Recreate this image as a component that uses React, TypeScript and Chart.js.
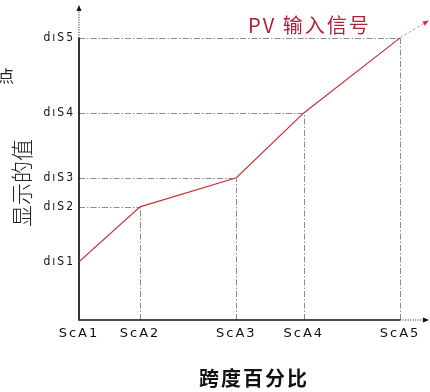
import React, { useEffect, useRef } from "react";
import { Chart, registerables } from "chart.js";

Chart.register(...registerables);

const xLabels = ["ScA1", "ScA2", "ScA3", "ScA4", "ScA5"];
const yLabels = ["dıS1", "dıS2", "dıS3", "dıS4", "dıS5"];
const xValues = [0, 19, 49, 70, 100];
const yValues = [20.6, 40.1, 50.4, 73.4, 100];
const extX = [100, 108.7];
const extY = [100, 106];

const X_MAX = 109;
const Y_MAX = 112;

const guidesPlugin = {
  id: "guides",
  beforeDraw(chart: any) {
    chart.ctx.letterSpacing = "2px";
  },
  beforeDatasetsDraw(chart: any) {
    const ctx = chart.ctx;
    const xs = chart.scales.x;
    const ys = chart.scales.y;
    const area = chart.chartArea;
    ctx.save();
    ctx.strokeStyle = "#8c8c8c";
    ctx.lineWidth = 1;
    ctx.setLineDash([6, 2, 1.5, 2]);
    for (let i = 0; i < xValues.length; i++) {
      const px = Math.round(xs.getPixelForValue(xValues[i])) + 0.5;
      const py = Math.round(ys.getPixelForValue(yValues[i])) + 0.5;
      if (i > 0) {
        ctx.beginPath();
        ctx.moveTo(area.left, py);
        ctx.lineTo(px, py);
        ctx.stroke();
        ctx.beginPath();
        ctx.moveTo(px, area.bottom);
        ctx.lineTo(px, py);
        ctx.stroke();
      }
    }
    ctx.restore();

    const x0 = xs.getPixelForValue(0);
    const y0 = ys.getPixelForValue(0);
    const xEnd = xs.getPixelForValue(100);
    const yEnd = ys.getPixelForValue(100);
    ctx.save();
    ctx.strokeStyle = "#111";
    ctx.lineWidth = 1.7;
    ctx.beginPath();
    ctx.moveTo(x0, y0);
    ctx.lineTo(x0, yEnd);
    ctx.moveTo(x0 - 0.8, y0);
    ctx.lineTo(xEnd, y0);
    ctx.stroke();
    ctx.lineWidth = 1;
    ctx.setLineDash([1, 1.5]);
    ctx.beginPath();
    ctx.moveTo(x0, yEnd);
    ctx.lineTo(x0, area.top + 5);
    ctx.moveTo(xEnd, y0);
    ctx.lineTo(area.right - 5, y0);
    ctx.stroke();
    ctx.setLineDash([]);
    ctx.fillStyle = "#111";
    ctx.beginPath();
    ctx.moveTo(x0, area.top + 1);
    ctx.lineTo(x0 - 2.5, area.top + 7);
    ctx.lineTo(x0 + 2.5, area.top + 7);
    ctx.closePath();
    ctx.fill();
    ctx.beginPath();
    ctx.moveTo(area.right, y0);
    ctx.lineTo(area.right - 6, y0 - 2.5);
    ctx.lineTo(area.right - 6, y0 + 2.5);
    ctx.closePath();
    ctx.fill();
    ctx.restore();
  },
  afterDatasetsDraw(chart: any) {
    const ctx = chart.ctx;
    const xs = chart.scales.x;
    const ys = chart.scales.y;
    const ax = xs.getPixelForValue(extX[0]);
    const ay = ys.getPixelForValue(extY[0]);
    const bx = xs.getPixelForValue(extX[1]);
    const by = ys.getPixelForValue(extY[1]);
    const ang = Math.atan2(by - ay, bx - ax);
    ctx.save();
    ctx.fillStyle = "#d2303c";
    ctx.translate(bx, by);
    ctx.rotate(ang);
    ctx.beginPath();
    ctx.moveTo(1, 0);
    ctx.lineTo(-5, -2.5);
    ctx.lineTo(-5, 2.5);
    ctx.closePath();
    ctx.fill();
    ctx.restore();
  },
  afterDraw(chart: any) {
    const ctx = chart.ctx;
    ctx.save();
    ctx.letterSpacing = "2px";
    ctx.fillStyle = "#b3203c";
    ctx.font = "20px 'Noto Sans CJK SC'";
    ctx.textAlign = "left";
    ctx.textBaseline = "middle";
    ctx.fillText("PV 输入信号", 248, 25);
    ctx.restore();

    ctx.save();
    ctx.letterSpacing = "0px";
    ctx.fillStyle = "#222";
    ctx.font = "16px 'Noto Sans CJK SC'";
    ctx.textAlign = "center";
    ctx.textBaseline = "middle";
    ctx.fillText("点", 6, 76);
    ctx.restore();

    ctx.save();
    ctx.letterSpacing = "0px";
    ctx.fillStyle = "#222";
    ctx.textAlign = "center";
    ctx.textBaseline = "middle";
    ctx.translate(22, 183);
    ctx.rotate(-Math.PI / 2);
    ctx.font = "300 22px 'Noto Sans CJK SC'";
    ctx.fillText("显示的值", 0, 0);
    ctx.restore();
  },
};

export default function App() {
  const ref = useRef<HTMLCanvasElement | null>(null);
  useEffect(() => {
    document.body.style.margin = "0";
    const canvas = ref.current;
    if (!canvas) return;
    const chart = new Chart(canvas, {
      type: "line",
      data: {
        datasets: [
          {
            data: xValues.map((x, i) => ({ x, y: yValues[i] })),
            borderColor: "#c9303a",
            borderWidth: 1.2,
            pointRadius: 0,
            tension: 0,
          },
          {
            data: extX.map((x, i) => ({ x, y: extY[i] })),
            borderColor: "rgba(222,120,130,0.85)",
            borderWidth: 1,
            borderDash: [3, 2],
            pointRadius: 0,
            tension: 0,
          },
        ],
      },
      options: {
        animation: false,
        responsive: false,
        events: [],
        layout: { padding: { top: 4, right: 1, left: 0, bottom: 0 } },
        plugins: {
          legend: { display: false },
          tooltip: { enabled: false },
        },
        scales: {
          x: {
            type: "linear",
            min: 0,
            max: X_MAX,
            grid: { display: false, drawTicks: false },
            border: { display: false },
            afterBuildTicks: (scale: any) => {
              scale.ticks = xValues.map((v) => ({ value: v }));
            },
            afterFit: (scale: any) => {
              scale.height = 72;
              scale.paddingLeft = 0;
              scale.paddingRight = 0;
            },
            ticks: {
              autoSkip: false,
              maxRotation: 0,
              padding: 6,
              color: "#111",
              font: { family: "'DejaVu Sans'", size: 13 },
              callback: (_v: any, i: number) => xLabels[i],
            },
            title: {
              display: true,
              text: "跨度百分比",
              color: "#111",
              font: { family: "'Noto Sans CJK SC'", size: 20, weight: "bold" },
              padding: { top: 0, bottom: 2 },
            },
          },
          y: {
            type: "linear",
            min: 0,
            max: Y_MAX,
            grid: { display: false, drawTicks: false },
            border: { display: false },
            afterBuildTicks: (scale: any) => {
              scale.ticks = yValues.map((v) => ({ value: v }));
            },
            afterFit: (scale: any) => {
              scale.width = 79;
              scale.paddingTop = 0;
              scale.paddingBottom = 0;
            },
            ticks: {
              autoSkip: false,
              padding: 4,
              color: "#111",
              font: { family: "'DejaVu Sans Condensed'", size: 12 },
              callback: (_v: any, i: number) => yLabels[i],
            },
          },
        },
      },
      plugins: [guidesPlugin],
    });
    return () => chart.destroy();
  }, []);
  return (
    <div style={{ width: 430, height: 392 }}>
      <canvas ref={ref} width={430} height={392} style={{ display: "block" }} />
    </div>
  );
}
